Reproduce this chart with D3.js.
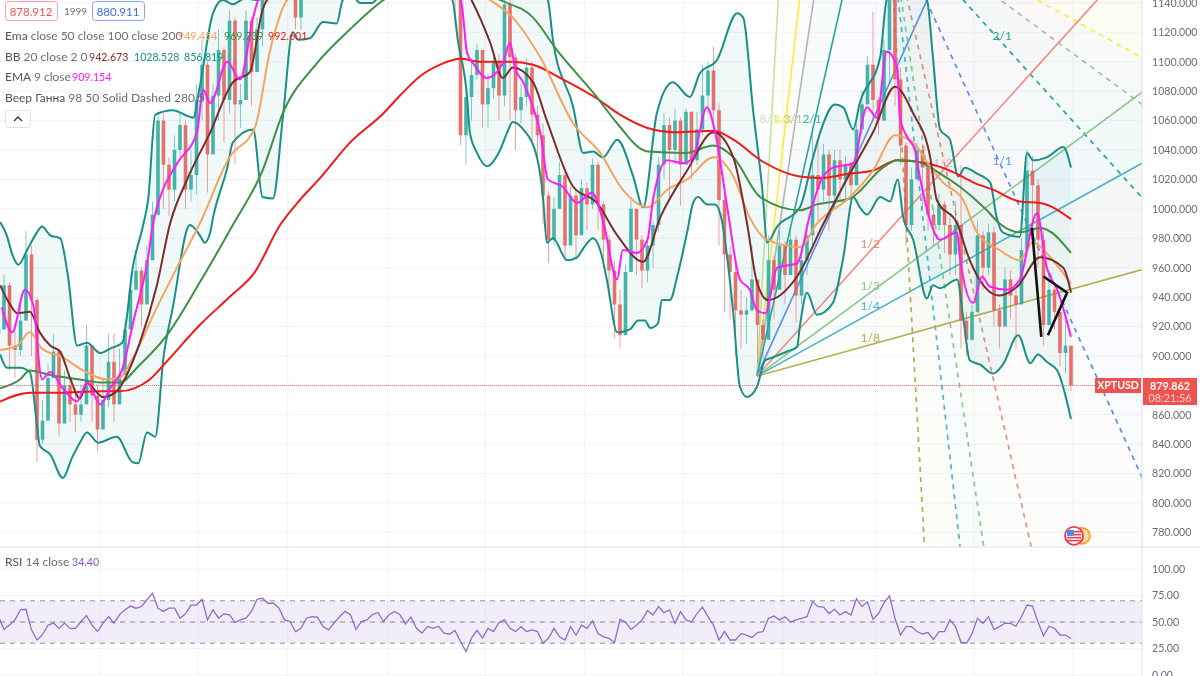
<!DOCTYPE html>
<html><head><meta charset="utf-8">
<script src="https://cdn.jsdelivr.net/npm/d3@7/dist/d3.min.js"></script>
<style>
html,body{margin:0;padding:0;background:#fff;overflow:hidden}
svg{display:block;filter:blur(0.35px)}
text{font-family:Lato,"Noto Sans",sans-serif}
.ax text{fill:#6a6d78;font-size:10.6px;font-family:Lato,"Noto Sans",sans-serif}
</style></head><body>
<svg id="c" width="1200" height="676"></svg>
<script>
const priceTicks=d3.range(780,1141,20);
const rsiTicks=[100,75,50,25,0];
const gridBars=[18.5,36.3,52.6,70.8,88.5,106.6,124.5,142.6,159.5,177.4,195.4];
const closes=[918,948,907,904,924,969,938,843,856,885,
903,854,880,867,860,867,907,873,850,870,
896,867,887,918,945,958,935,965,996,1060,
1030,1013,1040,1057,1013,1023,1074,1098,1037,1077,
1108,1074,1128,1071,1074,1128,1093,1122,1149,1155,
1170,1162,1180,1160,1130,1145,1160,1175,1168,1190,
1205,1195,1215,1200,1222,1210,1230,1218,1205,1225,
1240,1228,1215,1235,1220,1205,1190,1210,1195,1180,
1170,1185,1160,1145,1050,1076,1091,1108,1071,1082,
1100,1077,1139,1103,1067,1076,1096,1064,1050,1009,
979,1000,1023,975,1009,982,1014,1003,1030,1003,
979,958,935,914,957,1000,979,958,975,989,
1030,1057,1040,1060,1030,1066,1033,1054,1077,1094,
1067,1006,969,957,931,928,931,952,921,911,
965,945,975,955,979,941,965,982,1023,1013,
1037,1009,1033,1020,1030,1016,1054,1071,1098,1074,
1060,1108,1149,1088,1043,989,1020,1040,1028,996,
989,1003,989,969,989,924,911,930,982,960,
984,931,920,952,941,935,972,1026,1016,979,
921,945,930,902,907,880];
const highs=[930,955,950,920,935,985,975,940,870,895,
915,905,890,885,878,880,921,905,880,885,
915,915,905,925,955,968,960,975,1005,1066,
1065,1035,1050,1065,1060,1040,1085,1115,1100,1085,
1122,1110,1135,1130,1085,1135,1130,1130,1152,1165,
1175,1175,1185,1182,1165,1150,1165,1180,1180,1195,
1213,1210,1222,1218,1230,1228,1238,1235,1225,1232,
1248,1245,1235,1242,1238,1225,1210,1218,1212,1198,
1190,1190,1188,1170,1175,1082,1100,1112,1100,1092,
1108,1105,1145,1142,1105,1085,1102,1100,1070,1058,
1012,1008,1032,1025,1015,1012,1020,1018,1034,1032,
1005,982,965,945,962,1008,1000,982,980,992,
1035,1065,1062,1068,1062,1068,1066,1066,1098,1100,
1110,1072,1010,975,965,945,940,975,950,925,
982,968,985,978,985,982,975,990,1052,1047,
1044,1040,1040,1040,1036,1032,1058,1080,1104,1134,
1076,1115,1155,1150,1096,1045,1028,1045,1044,1032,
1000,1010,1005,997,1005,1030,930,935,992,985,
990,988,935,960,958,945,980,1040,1036,1020,
985,958,950,925,930,905];
const lows=[905,920,890,885,900,955,900,828,840,870,
890,845,860,855,848,855,870,855,835,860,
865,855,870,900,925,945,920,945,975,1010,
1000,995,1005,1035,1000,1005,1010,1060,1011,1045,
1060,1045,1065,1030,1055,1075,1070,1100,1110,1140,
1150,1150,1165,1145,1122,1122,1145,1160,1155,1175,
1190,1180,1195,1185,1205,1195,1215,1205,1190,1210,
1225,1215,1200,1220,1205,1190,1175,1195,1180,1165,
1155,1170,1145,1126,1043,1030,1060,1088,1055,1055,
1075,1060,1070,1060,1040,1058,1070,1045,1030,990,
963,975,1000,965,985,965,985,985,1000,985,
960,940,912,905,925,970,955,946,950,960,
985,1020,1005,1030,1002,1035,1020,1030,1050,1065,
1055,975,930,925,900,905,908,930,895,898,
940,925,945,935,955,923,935,955,975,990,
1005,985,1000,1005,1005,1005,1020,1050,1075,1060,
1050,1060,1085,1070,1030,975,985,1030,1000,985,
975,985,970,955,955,905,900,910,955,945,
955,920,905,925,925,905,950,1010,985,960,
907,925,918,893,888,876];
const rsiValues=[55,43,47.3,52,61.5,62,42.6,33,38,47,49,44,49,44,44,50.5,56,47,41,49,55,49,57,61.5,65,63,64.6,71,77,63,60,63,63,53.6,57.7,66,66,71.5,52,61.5,53.6,57.7,56.8,49.5,52,53.6,60,71.5,72.4,67.7,67.7,63,52,50.5,41,44,53.6,55,54.5,45.8,42.6,49,55,60,56.8,43,50.5,52,57,59,50.5,56.8,60,56.8,48.3,54.5,44,39.5,45.8,44,46,39.5,38.5,42,31.6,22,34.8,42,34.8,44,41,49.5,
52,44,41,45.6,41,42.5,41,30,34.6,44,36,33,45.6,37.7,47,44,51,39,36,34.6,30.5,52.5,50,43,47,52,60.7,56.6,64.5,58.8,61.3,48.7,59.8,52,50,58,64,55,47,33,41,33,33,39,37.7,35.5,40,41,53.5,55.7,52,55,50,52,53.5,55,69,64.5,64,58,62,56.6,59.8,56.6,72,64.5,69,52.5,58,68,74.5,53.5,37.7,45.6,45.6,41,38.7,40,33.6,41,41,52,45.6,31,30,39,53.5,48.7,55,43,45.6,49,48.7,46,55,66,65,50,37,46,44,37.7,37.7,34.4];
const ema200=[[0.3,869],[5.7,875],[11,875],[18.5,876],[22,876],[27.5,884],[30.3,895],[36.6,921],[42,940],[46.6,957],[51.2,989],[54.8,1006],[58.5,1021],[63.9,1045],[70,1065],[73,1077],[76.6,1090],[80.3,1098],[84,1102],[87.5,1100],[93,1100],[97.2,1098],[102.1,1089],[108.8,1075],[113,1064],[118,1055],[123.4,1052],[130,1053],[133.6,1047],[139,1032],[145.7,1022],[149.4,1021],[154.8,1024],[159,1026],[163.4,1033],[168.8,1031],[173.6,1025],[177.2,1018],[180.8,1013],[185.7,1005],[189.4,1004],[195,993]];
const ema100=[[0.3,878],[3.9,884],[5.7,890],[9.4,887],[14.8,884],[18.5,882],[22,882],[25.7,894],[30.6,914],[36.6,950],[42.6,989],[48,1026],[51.7,1065],[57.9,1099],[63.9,1122],[70,1142],[80.3,1159],[91.2,1142],[97.2,1130],[101.5,1108],[108.8,1076],[112.5,1058],[118,1039],[125,1038],[130,1043],[133.6,1035],[138.5,1008],[145.7,999],[148.8,1003],[154.8,1007],[160.8,1028],[163.4,1033],[167,1032],[171.2,1024],[174.8,1015],[179.7,999],[182,990],[185.7,984],[189.4,987],[195,970]];
const ema50=[[0.3,904],[3.4,907],[5.7,916],[7.9,905],[11.7,899],[15.4,890],[19.7,884],[22,885],[24.5,899],[28.8,933],[33,964],[36.6,990],[42,1035],[46.6,1055],[49.4,1108],[52.5,1142],[64,1169],[78.5,1166],[89.4,1142],[93.5,1130],[98.5,1103],[104.5,1058],[109.4,1038],[113.5,1013],[118,1001],[121.6,1013],[125.2,1020],[130,1035],[133.6,1022],[136.6,994],[139.7,979],[145.7,974],[148.8,990],[154.8,1008],[159,1026],[163,1050],[166.3,1045],[169.9,1026],[171.7,1018],[175.4,1006],[177.9,984],[182,972],[185.7,965],[188,977],[191.7,965],[195,949]];
const bbBasis=[[0.3,948],[2.1,935],[3.4,929],[5.7,930],[7.5,916],[9.4,907],[11.2,903],[13,885],[14.8,871],[16.1,882],[17.2,878],[19,872],[21.2,875],[25.7,909],[28.8,948],[31.2,990],[34.3,1020],[38.5,1052],[42.6,1086],[45.7,1093],[48,1135],[48.8,1142],[64,1183],[78.5,1176],[86,1142],[89.4,1113],[91.7,1089],[93.5,1096],[97.2,1086],[99.7,1060],[104.5,1015],[108.8,1004],[112.5,982],[117.2,964],[120.3,994],[125.2,1026],[130,1052],[133.6,1035],[136.1,990],[137.9,950],[139.9,938],[145.2,954],[150,990],[154.8,1024],[159,1052],[163,1083],[166.3,1065],[169.4,1035],[170.6,1006],[174.3,990],[176.6,965],[182,941],[185.2,947],[189.4,967],[193.6,960],[195,943]];
const ema9=[[0.6,933],[2.5,916],[4.8,945],[6.3,935],[7.9,884],[9.4,889],[11.7,878],[14.3,869],[16.1,882],[18.5,867],[20.3,878],[22.6,892],[24.5,923],[27.2,967],[28.1,990],[29.4,1008],[32.5,1031],[36.1,1052],[37.2,1081],[38.5,1072],[41.6,1100],[43.9,1088],[46.3,1130],[47.2,1142],[51.2,1162],[64,1183],[78.5,1173],[83,1152],[84.3,1137],[85.2,1106],[86.3,1099],[88.8,1089],[91.7,1099],[93,1113],[93.9,1096],[95.4,1086],[97.2,1069],[98.5,1052],[99.9,1020],[102.6,1015],[105.2,1004],[107.9,1011],[109.9,992],[112.5,952],[113.5,972],[116.1,970],[118,979],[119,1006],[121.6,1033],[124.5,1031],[126.3,1035],[128.8,1069],[130.3,1052],[132.5,1001],[134.8,952],[136.6,945],[137.9,931],[139.4,929],[141.6,960],[145.2,963],[147.6,997],[149.4,1018],[151.7,1028],[155.4,1031],[157.9,1069],[159.7,1062],[161.5,1107],[163.4,1096],[163.9,1062],[165.2,1049],[166.6,1040],[167.5,1022],[169,997],[171.2,979],[174.3,984],[174.8,967],[177.2,936],[178.8,954],[180.3,947],[183.4,945],[185.7,952],[188.8,997],[190.6,960],[192.5,945],[195,913]];
const bbUpper=[[0.3,991],[1.5,982],[2.5,969],[3.6,962],[5.2,972],[7,984],[7.9,988],[9.4,982],[11.2,980],[12.6,955],[14.3,907],[16.1,909],[18.5,902],[20.3,905],[22.5,909],[24.5,962],[26.3,989],[27.2,1006],[28.5,1064],[31.7,1067],[35.4,1062],[36.6,1083],[39,1133],[40.8,1142],[42.6,1139],[44.8,1143],[47,1142],[54.8,1173],[73,1203],[91.2,1190],[99.9,1142],[100.8,1115],[104.5,1069],[106.3,1038],[108.1,1039],[109.9,1035],[112.5,1047],[115.4,1022],[117.2,1001],[119.7,1065],[122.6,1086],[125.7,1076],[127.5,1092],[130.6,1101],[134.3,1133],[135.4,1130],[137.2,1067],[139,1008],[139.7,977],[141.6,988],[145.7,1001],[148.1,1035],[149.4,1052],[152.1,1071],[153.6,1069],[155.4,1054],[156.6,1072],[160.3,1103],[161.5,1142],[164.8,1152],[168.8,1142],[169.9,1103],[171.2,1054],[173,1047],[174.5,1022],[175.7,1028],[177.9,1024],[180.3,1018],[181.5,994],[182.6,984],[185.7,981],[187,1038],[188.1,1033],[190.6,1035],[193.6,1042],[195,1028]];
const bbLower=[[0.3,901],[1.5,892],[3.9,892],[5.7,889],[7,853],[7.5,839],[9.4,833],[11.7,817],[13.4,831],[14.8,841],[16.1,848],[18.1,841],[21.5,845],[24.3,828],[25.4,827],[27,848],[28.5,845],[30,899],[31.7,933],[34.8,989],[36.6,982],[37.5,977],[38.5,984],[39,994],[41.6,1028],[42.6,1045],[46.3,1054],[48,1008],[49.9,1007],[51.7,1062],[53.5,1120],[54.5,1115],[56.6,1116],[59,1127],[61.5,1126],[62.6,1142],[64.3,1145],[65.7,1140],[67.9,1140],[69.4,1145],[76.6,1152],[82.5,1142],[83.5,1115],[85.2,1076],[85.7,1052],[87,1038],[88.8,1029],[91.2,1040],[92.5,1052],[93.5,1059],[95.4,1054],[97.9,1035],[99,1008],[99.7,977],[100.8,980],[103.4,965],[105.2,967],[106.3,973],[108.1,980],[109.4,972],[110.6,952],[112.5,916],[114.8,918],[116.3,924],[117.5,924],[118.5,919],[119.9,922],[120.6,938],[122.1,938],[123.4,954],[125.2,984],[126.3,1004],[127.2,1008],[128.8,1003],[130.3,1003],[131.2,997],[133.6,929],[134.8,879],[136.1,872],[137.9,879],[139.4,897],[140.8,899],[143.4,903],[145.2,906],[145.7,920],[147,943],[148.8,928],[151.7,936],[153.6,967],[155.4,1008],[156.6,1001],[157.9,996],[160.3,1008],[162.1,1005],[163.5,1020],[164.5,994],[166.3,979],[168.8,939],[169.9,948],[171.2,946],[174.3,952],[175.4,926],[176.6,897],[178.5,894],[180.8,888],[182.6,894],[185.4,914],[187.6,895],[189,901],[190.6,896],[192.5,890],[195,857]];
const fanRatios=[8,4,3,2,1,1/2,1/3,1/4,1/8];
const fanNames=["8/1","4/1","3/1","2/1","1/1","1/2","1/3","1/4","1/8"];
const fanColors=["#c5e1a5","#ffeb3b","#b4b4b4","#26a69a","#5b8def","#f08a85","#8cc68c","#4db6c6","#b5ad4a"];
const fanUp={bar:137.9,price:886.3}, fanDown={bar:161.9,price:1197.8}, fanSlope=8.265, fanEndBar=209;
const drawnA=[[187.9,987],[189.6,913]], drawnB=[[190.8,914],[194.3,943],[190,954]];
const lastPrice=879.862;

const W=1200,axisX=1142,paneH=547;
const svg=d3.select("#c");
const x=d3.scaleLinear().domain([0,195]).range([-1.5,1071]);
const y=d3.scaleLinear().domain([780,1140]).range([532.4,2.9]);
const ry=d3.scaleLinear().domain([0,100]).range([675,569]);
svg.append("defs").append("clipPath").attr("id","pc").append("rect").attr("width",axisX).attr("height",paneH);

const grid=svg.append("g").attr("stroke","#f2f3f7").attr("stroke-width",1);
grid.selectAll(".h").data(priceTicks).join("line").attr("x1",0).attr("x2",axisX).attr("y1",d=>y(d)).attr("y2",d=>y(d));
grid.selectAll(".r").data(rsiTicks).join("line").attr("x1",0).attr("x2",axisX).attr("y1",d=>ry(d)).attr("y2",d=>ry(d));
grid.selectAll(".v").data(gridBars).join("line").attr("x1",d=>x(d)).attr("x2",d=>x(d)).attr("y1",0).attr("y2",676);

const main=svg.append("g").attr("clip-path","url(#pc)");
const rayUp=r=>[fanEndBar,fanUp.price+r*fanSlope*(fanEndBar-fanUp.bar)];
const rayDn=r=>[fanEndBar,fanDown.price-fanSlope/r*(fanEndBar-fanDown.bar)];
const pt=d=>[x(d[0]),y(d[1])];
for(let i=0;i<fanRatios.length-1;i++){
  main.append("path").attr("d",d3.line()([[fanUp.bar,fanUp.price],rayUp(fanRatios[i]),rayUp(fanRatios[i+1])].map(pt))+"Z")
    .attr("fill",fanColors[i+1]).attr("opacity",.035);
  main.append("path").attr("d",d3.line()([[fanDown.bar,fanDown.price],rayDn(fanRatios[i]),rayDn(fanRatios[i+1])].map(pt))+"Z")
    .attr("fill",fanColors[i+1]).attr("opacity",.035);
}
fanRatios.forEach((r,i)=>{
  main.append("path").attr("d",d3.line()([[fanUp.bar,fanUp.price],rayUp(r)].map(pt)))
    .attr("stroke",fanColors[i]).attr("stroke-width",1.6).attr("fill","none");
  main.append("path").attr("d",d3.line()([[fanDown.bar,fanDown.price],rayDn(r)].map(pt)))
    .attr("stroke",fanColors[i]).attr("stroke-width",1.7).attr("stroke-dasharray","5 5").attr("fill","none");
});
const labelUpPrice=r=>fanUp.price+r*fanSlope*(158.5-fanUp.bar);
[5,6,7,8].forEach(i=>main.append("text").attr("x",x(158.5)).attr("y",y(labelUpPrice(fanRatios[i]))-3)
  .attr("text-anchor","middle").attr("font-size",12).attr("fill",fanColors[i]).text(fanNames[i]));
[0,1,2,3].forEach(i=>main.append("text").attr("x",x(fanUp.bar+(1058-fanUp.price)/(fanRatios[i]*fanSlope))-2).attr("y",y(1058)-1)
  .attr("text-anchor","middle").attr("font-size",12).attr("fill",fanColors[i]).attr("opacity",.9).text(fanNames[i]));
[[4,182.5,-3,1],[3,182.5,-3,1],[5,171.7,11,.6]].forEach(([i,b,dy,o])=>main.append("text").attr("x",x(b)).attr("y",y(fanDown.price-fanSlope/fanRatios[i]*(b-fanDown.bar))+dy)
  .attr("text-anchor","middle").attr("font-size",12).attr("opacity",o).attr("fill",fanColors[i]).text(fanNames[i]));

const cw=3.6;
const opens=closes.map((c,i)=>i?closes[i-1]:915);
const cg=main.append("g").attr("opacity",.85);
closes.forEach((c,i)=>{
  const col=c>=opens[i]?"#26a69a":"#ef5350";
  cg.append("line").attr("x1",x(i)).attr("x2",x(i)).attr("y1",y(highs[i])).attr("y2",y(lows[i])).attr("stroke",col).attr("stroke-opacity",.65).attr("stroke-width",1);
  cg.append("rect").attr("x",x(i)-cw/2).attr("width",cw).attr("y",y(Math.max(c,opens[i]))).attr("height",Math.max(1,Math.abs(y(c)-y(opens[i])))).attr("fill",col);
});
const ln=d3.line().x(d=>x(d[0])).y(d=>y(d[1])).curve(d3.curveMonotoneX);
const bandPath=ln(bbUpper)+"L"+ln(bbLower.slice().reverse()).slice(1)+"Z";
main.append("path").attr("d",bandPath).attr("fill","#26a69a").attr("opacity",.07);
[[bbUpper,"#1a8f85",2],[bbLower,"#1a8f85",2],[ema200,"#f01a1a",2],[ema100,"#3f8f47",2],[ema50,"#f4a460",2],[bbBasis,"#7a2d2d",2],[ema9,"#ff19ff",2]]
 .forEach(([d,c,w])=>main.append("path").attr("d",ln(d)).attr("fill","none").attr("stroke",c).attr("stroke-width",w).attr("stroke-linejoin","round"));
[drawnA,drawnB].forEach(d=>main.append("path").attr("d",d3.line()(d.map(pt))).attr("fill","none").attr("stroke","#111").attr("stroke-width",2.6));
main.append("line").attr("x1",0).attr("x2",axisX).attr("y1",y(lastPrice)).attr("y2",y(lastPrice)).attr("stroke","#ef5350").attr("stroke-opacity",.8).attr("stroke-width",1).attr("stroke-dasharray","1 1");
const flag=main.append("g").attr("transform",`translate(${x(195)+3},${y(778)+0.5})`);
flag.append("circle").attr("cx",8).attr("r",8).attr("fill","#ffd9a0").attr("stroke","#f59c1f").attr("stroke-width",1.6);
flag.append("circle").attr("r",9).attr("fill","#fff").attr("stroke","#ef3b4c").attr("stroke-width",1.8);
[-5,-2,1,4].forEach(d=>flag.append("rect").attr("x",-7).attr("y",d).attr("width",14).attr("height",1.6).attr("fill","#ef3b4c"));
flag.append("rect").attr("x",-7).attr("y",-6).attr("width",7).attr("height",6).attr("fill","#4a90e2");

svg.append("rect").attr("x",0).attr("width",axisX).attr("y",ry(70)).attr("height",ry(30)-ry(70)).attr("fill","#7e57c2").attr("opacity",.1);
[70,50,30].forEach(v=>svg.append("line").attr("x1",0).attr("x2",axisX).attr("y1",ry(v)).attr("y2",ry(v)).attr("stroke","#8d8d96").attr("stroke-width",1).attr("stroke-dasharray","5 5"));
svg.append("path").attr("d",d3.line().x((d,i)=>x(i)).y(d=>ry(d))(rsiValues)).attr("fill","none").attr("stroke","#7e57c2").attr("stroke-width",1.3).attr("stroke-opacity",.85);

svg.append("line").attr("x1",0).attr("x2",W).attr("y1",paneH).attr("y2",paneH).attr("stroke","#dfe1ea");
svg.append("line").attr("x1",axisX).attr("x2",axisX).attr("y1",0).attr("y2",676).attr("stroke","#dfe1ea");
svg.append("g").attr("class","ax").attr("transform",`translate(${axisX},0)`).call(d3.axisRight(y).tickValues(priceTicks.filter(t=>t!==880)).tickFormat(d3.format(".3f")).tickSize(0).tickPadding(10));
svg.append("g").attr("class","ax").attr("transform",`translate(${axisX},0)`).call(d3.axisRight(ry).tickValues(rsiTicks).tickFormat(d3.format(".2f")).tickSize(0).tickPadding(10));
svg.selectAll(".ax .domain").remove();

svg.append("rect").attr("x",1095).attr("y",378).attr("width",46).attr("height",15).attr("fill","#ef5350");
svg.append("text").attr("x",1118).attr("y",389).attr("text-anchor","middle").attr("fill","#fff").attr("font-size",10.5).attr("font-weight",700).text("XPTUSD");
svg.append("rect").attr("x",1143).attr("y",378).attr("width",54).attr("height",27).attr("fill","#ef5350");
svg.append("text").attr("x",1170).attr("y",390).attr("text-anchor","middle").attr("fill","#fff").attr("font-size",10.8).attr("font-weight",700).text(d3.format(".3f")(lastPrice));
svg.append("text").attr("x",1170).attr("y",402).attr("text-anchor","middle").attr("fill","#ffd5d3").attr("font-size",10.8).text("08:21:56");

const box=(x0,w,stroke,col,t)=>{
  svg.append("rect").attr("x",x0+.5).attr("y",1.5).attr("width",w).attr("height",19).attr("rx",3).attr("fill","#fff").attr("stroke",stroke).attr("stroke-width",1);
  svg.append("text").attr("x",x0+w/2).attr("y",15.5).attr("text-anchor","middle").attr("font-size",11.5).attr("fill",col).text(t);
};
box(5,52,"#f0a0a6","#ef5350","878.912");
svg.append("text").attr("x",75.5).attr("y",15).attr("text-anchor","middle").attr("font-size",10).attr("fill","#6a6d78").text("1999");
box(92,52,"#8aa5ee","#3f6be0","880.911");
const legend=(yy,title,rest,vals)=>{
  const t=svg.append("text").attr("x",5).attr("y",yy).attr("font-size",12);
  t.append("tspan").attr("fill","#50535e").text(title+" ");
  t.append("tspan").attr("fill","#6a6d78").text(rest);
  vals.forEach(([vx,c,v])=>svg.append("text").attr("x",vx).attr("y",yy).attr("font-size",10.6).attr("fill",c).text(v));
};
legend(40,"Ema","close 50 close 100 close 200",[[178,"#f4a460","949.454"],[224,"#3f8f47","969.739"],[268,"#f01a1a","992.601"]]);
legend(61,"BB","20 close 2 0",[[89,"#7a2d2d","942.673"],[134,"#1a8f85","1028.528"],[184,"#1a8f85","856.819"]]);
legend(81,"EMA","9 close",[[72,"#ff19ff","909.154"]]);
legend(102,"Веер Ганна","98 50 Solid Dashed 280 5",[]);
svg.append("rect").attr("x",5.5).attr("y",110.5).attr("width",25).attr("height",17).attr("rx",3).attr("fill","#fff").attr("stroke","#dfe1ea");
svg.append("path").attr("d",d3.line()([[14,121],[18,117],[22,121]])).attr("fill","none").attr("stroke","#333").attr("stroke-width",1.4);
legend(566,"RSI","14 close",[[72,"#7e57c2","34.40"]]);
</script>
</body></html>
